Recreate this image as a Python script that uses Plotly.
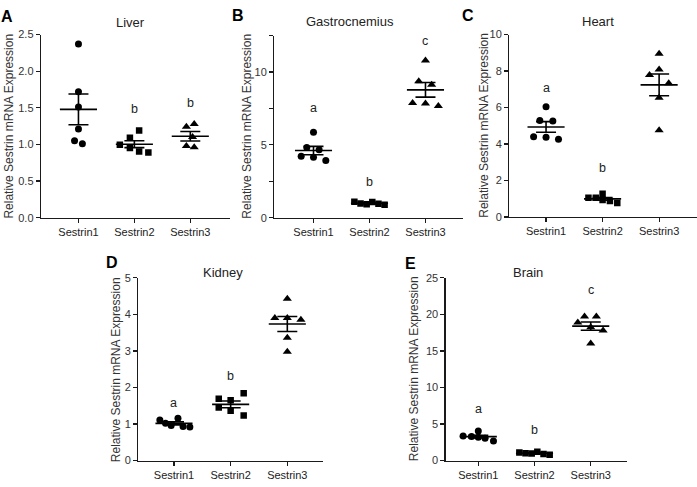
import numpy as np
import plotly.graph_objects as go

# ---------------- data ----------------
CATEGORIES = ["Sestrin1", "Sestrin2", "Sestrin3"]
TISSUES = ["Liver", "Gastrocnemius", "Heart", "Kidney", "Brain"]
PANEL_LETTERS = ["A", "B", "C", "D", "E"]

liver_s1 = [2.37, 1.72, 1.51, 1.21, 1.05, 1.01]
liver_s2 = [0.995, 1.09, 1.19, 0.95, 0.905, 0.89]
liver_s3 = [1.24, 1.28, 1.10, 0.98, 0.96]

gastro_s1 = [5.87, 4.82, 4.67, 4.22, 4.15, 3.93]
gastro_s2 = [1.10, 0.98, 0.92, 1.08, 0.95, 0.88]
gastro_s3 = [10.8, 9.36, 9.13, 7.88, 7.84, 7.66]

heart_s1 = [6.04, 5.29, 5.26, 4.40, 4.37, 4.26]
heart_s2 = [1.05, 1.05, 1.28, 0.93, 0.87, 0.76]
heart_s3 = [8.95, 8.09, 7.79, 7.33, 6.54, 4.76]

kidney_s1 = [1.11, 1.02, 0.96, 1.16, 0.93, 0.92]
kidney_s2 = [1.69, 1.65, 1.84, 1.45, 1.36, 1.23]
kidney_s3 = [4.43, 3.90, 3.90, 3.85, 3.36, 2.98]

brain_s1 = [3.34, 3.30, 4.05, 3.20, 3.03, 2.67]
brain_s2 = [1.10, 1.00, 0.95, 1.20, 0.90, 0.80]
brain_s3 = [18.9, 19.7, 19.7, 18.25, 17.8, 16.0]

SIG_LETTERS = [["a", "b", "b"], ["a", "b", "c"], ["a", "b", "c"],
               ["a", "b", "c"], ["a", "b", "c"]]

# y-axis tick values / labels
Y_TICKS = [
    ([0, 0.5, 1.0, 1.5, 2.0, 2.5], ["0.0", "0.5", "1.0", "1.5", "2.0", "2.5"]),
    ([0, 2.5, 5, 7.5, 10, 12.5], ["0", "", "5", "", "10", ""]),
    ([0, 2, 4, 6, 8, 10], ["0", "2", "4", "6", "8", "10"]),
    ([0, 1, 2, 3, 4, 5], ["0", "1", "2", "3", "4", "5"]),
    ([0, 5, 10, 15, 20, 25], ["0", "5", "10", "15", "20", "25"]),
]
Y_TITLE = "Relative Sestrin mRNA Expression"

DATA = [
    [liver_s1, liver_s2, liver_s3],
    [gastro_s1, gastro_s2, gastro_s3],
    [heart_s1, heart_s2, heart_s3],
    [kidney_s1, kidney_s2, kidney_s3],
    [brain_s1, brain_s2, brain_s3],
]

# ---------------- layout / style ----------------
W, H = 697, 487
FONT = "Liberation Sans, Arial, Helvetica, sans-serif"
SYMBOLS = ["circle", "square", "triangle-up"]
SIZES = [7, 6.5, 8]

# horizontal scatter spread (category units)
JITTER = [
    [[0, 0, 0, 0, -0.07, 0.07], [-0.26, -0.08, 0.085, -0.08, 0.085, 0.25], [-0.07, 0.07, 0.04, -0.07, 0.07]],
    [[0, -0.12, 0.10, -0.22, 0, 0.22], [-0.27, -0.16, -0.05, 0.05, 0.16, 0.27], [0, -0.12, 0.11, -0.23, 0, 0.23]],
    [[0, -0.11, 0.12, -0.22, 0, 0.22], [-0.25, -0.12, 0, 0, 0.13, 0.26], [0, 0, -0.17, 0.17, 0, 0]],
    [[-0.25, -0.15, -0.05, 0.07, 0.16, 0.28], [-0.21, 0, 0.23, -0.21, 0, 0.23], [0, -0.22, 0, 0.24, 0, 0]],
    [[-0.27, -0.12, 0, 0, 0.12, 0.27], [-0.27, -0.16, -0.05, 0.05, 0.16, 0.27], [-0.23, -0.11, 0.1, 0, 0.22, 0]],
]

# plot areas in pixels: (left, right, top, bottom)
AREAS = [
    (41, 230, 29.3, 217),
    (274.3, 463, 30.4, 217),
    (509.3, 697, 29.3, 216.3),
    (138.3, 323, 278.7, 466),
    (445.7, 626.7, 278.7, 466),
]
X_RANGES = [(-0.67, 2.71), (-0.70, 2.67), (-0.65, 2.67), (-0.63, 2.63), (-0.58, 2.64)]
Y_RANGES = [(0, 2.5), (0, 12.5), (0, 10), (0, 5), (0, 25)]
LETTER_Y = [[2.61, 1.49, 1.56], [7.5, 2.48, 12.1], [7.07, 2.7, 10.37],
            [1.58, 2.31, 5.04], [7.04, 4.23, 23.4]]
TITLE_POS = [(130, 16.5), (349.5, 16), (598.3, 15.5), (223.3, 273), (528.3, 273)]
PANEL_POS = [(7, 11), (238, 10), (468, 10), (112, 262.5), (410.5, 264)]
YTITLE_X = [9.5, 247, 484, 116, 414]

fig = go.Figure()
annotations = []
layout_axes = {}

for i in range(5):
    n = i + 1
    xa = "x" if n == 1 else f"x{n}"
    ya = "y" if n == 1 else f"y{n}"
    l, r, t, b = AREAS[i]
    layout_axes["xaxis" if n == 1 else f"xaxis{n}"] = dict(
        domain=[l / W, r / W], anchor=ya, range=list(X_RANGES[i]),
        tickvals=[0, 1, 2], ticktext=CATEGORIES, ticks="outside", ticklen=4,
        tickwidth=1.2, tickcolor="#1a1a1a", showline=True, linecolor="#1a1a1a",
        linewidth=1.3, showgrid=False, zeroline=False,
        tickfont=dict(family=FONT, size=11, color="#222"), fixedrange=True,
    )
    tv, tt = Y_TICKS[i]
    layout_axes["yaxis" if n == 1 else f"yaxis{n}"] = dict(
        domain=[1 - b / H, 1 - t / H], anchor=xa, range=list(Y_RANGES[i]),
        tickvals=tv, ticktext=tt, ticks="outside", ticklen=4, tickwidth=1.2,
        tickcolor="#1a1a1a", showline=True, linecolor="#1a1a1a", linewidth=1.3,
        showgrid=False, zeroline=False,
        tickfont=dict(family=FONT, size=11, color="#333"), fixedrange=True,
    )

    for j in range(3):
        vals = np.array(DATA[i][j], dtype=float)
        offs = JITTER[i][j][: len(vals)]
        fig.add_trace(go.Scatter(
            x=[j + o for o in offs], y=vals, mode="markers", xaxis=xa, yaxis=ya,
            marker=dict(symbol=SYMBOLS[j], size=SIZES[j], color="black",
                        line=dict(width=0)),
            showlegend=False, hoverinfo="y",
        ))
        mean = vals.mean()
        sem = vals.std(ddof=1) / np.sqrt(len(vals))
        fig.add_trace(go.Scatter(
            x=[j], y=[mean], mode="markers", xaxis=xa, yaxis=ya,
            marker=dict(symbol="line-ew", size=26.5, color="black",
                        line=dict(width=1.6, color="black")),
            error_y=dict(type="data", array=[sem], width=10, thickness=1.6,
                         color="black"),
            showlegend=False, hoverinfo="y",
        ))
        annotations.append(dict(
            x=j, y=LETTER_Y[i][j], xref=xa, yref=ya, text=SIG_LETTERS[i][j],
            showarrow=False, font=dict(family=FONT, size=12.5, color="#222"),
            xanchor="center", yanchor="middle",
        ))

    tx, ty = TITLE_POS[i]
    annotations.append(dict(
        x=tx / W, y=1 - ty / H, xref="paper", yref="paper", text=TISSUES[i],
        showarrow=False, font=dict(family=FONT, size=13, color="#222"),
        xanchor="center", yanchor="middle",
    ))
    px, py = PANEL_POS[i]
    annotations.append(dict(
        x=px / W, y=1 - py / H, xref="paper", yref="paper",
        text=f"<b>{PANEL_LETTERS[i]}</b>", showarrow=False,
        font=dict(family=FONT, size=16, color="black"),
        xanchor="center", yanchor="middle",
    ))
    annotations.append(dict(
        x=YTITLE_X[i] / W, y=1 - ((t + b) / 2) / H, xref="paper", yref="paper",
        text=Y_TITLE, textangle=-90, showarrow=False,
        font=dict(family=FONT, size=12, color="#333"),
        xanchor="center", yanchor="middle",
    ))

fig.update_layout(
    width=W, height=H, margin=dict(l=0, r=0, t=0, b=0),
    plot_bgcolor="white", paper_bgcolor="white",
    annotations=annotations, showlegend=False, **layout_axes,
)

fig.write_html(
    "out.html",
    config={"displayModeBar": False, "staticPlot": True},
    post_script="document.body.style.margin='0';document.body.style.overflow='hidden';",
)
